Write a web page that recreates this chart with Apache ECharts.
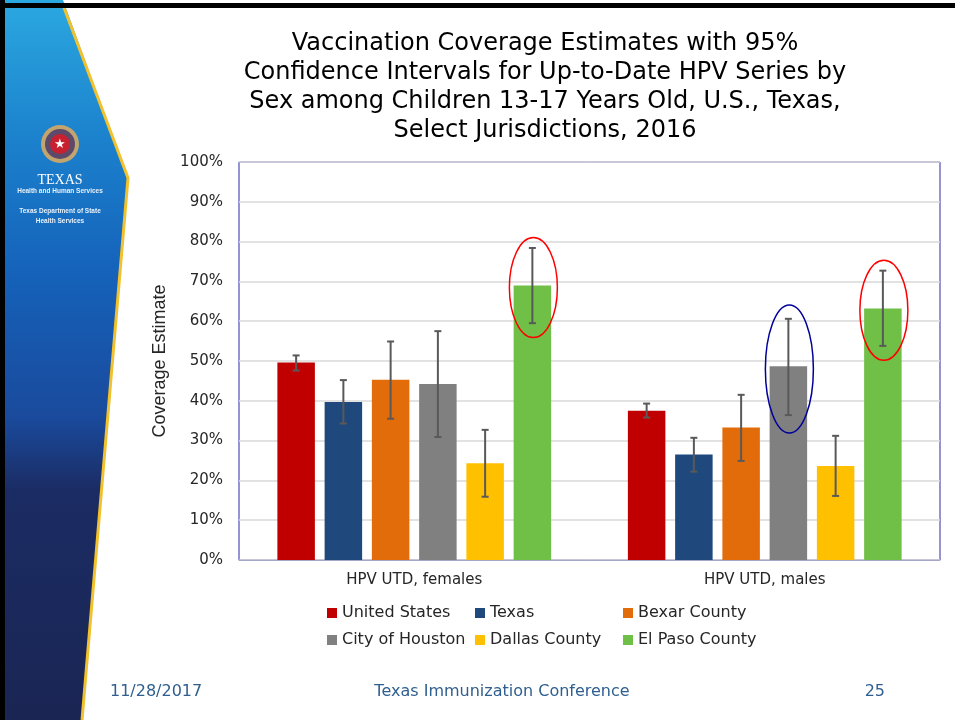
<!DOCTYPE html>
<html><head><meta charset="utf-8">
<script src="https://cdn.jsdelivr.net/npm/echarts@6/dist/echarts.min.js"></script>
<style>html,body{margin:0;padding:0;background:#fff}#c{width:955px;height:720px}</style>
</head><body><div id="c"></div>
<script>
// ---------------- DATA ----------------
const categories = ['HPV UTD, females', 'HPV UTD, males'];
const seriesNames = ['United States', 'Texas', 'Bexar County', 'City of Houston', 'Dallas County', 'El Paso County'];
const unitedStates = [49.6, 37.5];
const texas        = [39.7, 26.5];
const bexarCounty  = [45.3, 33.3];
const cityOfHouston= [44.2, 48.7];
const dallasCounty = [24.3, 23.6];
const elPasoCounty = [69.0, 63.2];
// 95% CI [low, high] per category
const unitedStatesCI = [[47.6, 51.4], [35.8, 39.3]];
const texasCI        = [[34.3, 45.2], [22.2, 30.7]];
const bexarCountyCI  = [[35.5, 54.9], [24.9, 41.5]];
const cityOfHoustonCI= [[30.9, 57.5], [36.4, 60.6]];
const dallasCountyCI = [[15.9, 32.7], [16.1, 31.2]];
const elPasoCountyCI = [[59.5, 78.4], [53.8, 72.7]];
// circled marks: [series name, category]
const circledMarks = [
  ['El Paso County', 'HPV UTD, females'],
  ['City of Houston', 'HPV UTD, males'],
  ['El Paso County', 'HPV UTD, males']
];
const titleLines = [
  'Vaccination Coverage Estimates with 95%',
  'Confidence Intervals for Up-to-Date HPV Series by',
  'Sex among Children 13-17 Years Old, U.S., Texas,',
  'Select Jurisdictions, 2016'
];
const footerDate = '11/28/2017';
const footerEvent = 'Texas Immunization Conference';
const footerPage = '25';

// ---------------- STYLE ----------------
const values = [unitedStates, texas, bexarCounty, cityOfHouston, dallasCounty, elPasoCounty];
const cis = [unitedStatesCI, texasCI, bexarCountyCI, cityOfHoustonCI, dallasCountyCI, elPasoCountyCI];
const colors = ['#C00000', '#1F497D', '#E36C0A', '#808080', '#FFC000', '#70BF46'];
const circleColors = {'El Paso County': '#FF0000', 'City of Houston': '#00009A'};
const BAR_W = 37.5, BAR_GAP = 0.26;
const FONT_W = '"DejaVu Sans", Verdana, sans-serif';
const FONT_T = '"DejaVu Sans", Tahoma, sans-serif';

function barOffset(si) {
  const n = seriesNames.length;
  return (si - (n - 1) / 2) * BAR_W * (1 + BAR_GAP);
}

const chart = echarts.init(document.getElementById('c'), null, {renderer: 'canvas'});

const barSeries = seriesNames.map((name, i) => ({
  name, type: 'bar', data: values[i], barWidth: BAR_W, barGap: (BAR_GAP * 100) + '%',
  itemStyle: {color: colors[i]}, z: 2
}));

const errData = [];
cis.forEach((arr, si) => arr.forEach((ci, ci_i) => errData.push([ci_i, ci[0], ci[1], si])));

const circData = circledMarks.map(([sname, cat]) => {
  const si = seriesNames.indexOf(sname), ci = categories.indexOf(cat);
  return [ci, cis[si][ci][0], cis[si][ci][1], si];
});

const errorSeries = {
  type: 'custom', name: 'ci', z: 5,
  encode: {x: 0, y: [1, 2]},
  data: errData,
  renderItem(params, api) {
    const cat = api.value(0), lo = api.value(1), hi = api.value(2), si = api.value(3);
    const a = api.coord([cat, lo]), b = api.coord([cat, hi]);
    const x = a[0] + barOffset(si);
    const st = {stroke: '#595959', lineWidth: 2};
    return {type: 'group', children: [
      {type: 'line', shape: {x1: x, y1: a[1], x2: x, y2: b[1]}, style: st},
      {type: 'line', shape: {x1: x - 3.5, y1: a[1], x2: x + 3.5, y2: a[1]}, style: st},
      {type: 'line', shape: {x1: x - 3.5, y1: b[1], x2: x + 3.5, y2: b[1]}, style: st}
    ]};
  }
};

const circleSeries = {
  type: 'custom', name: 'circles', z: 6,
  encode: {x: 0, y: [1, 2]},
  data: circData,
  renderItem(params, api) {
    const cat = api.value(0), lo = api.value(1), hi = api.value(2), si = api.value(3);
    const a = api.coord([cat, lo]), b = api.coord([cat, hi]);
    const x = a[0] + barOffset(si);
    const cy = (a[1] + b[1]) / 2 + 2;
    const ry = Math.abs(a[1] - b[1]) / 2 * 1.33;
    return {type: 'ellipse', shape: {cx: x + 1, cy: cy, rx: 24, ry: ry},
      style: {fill: 'none', stroke: circleColors[seriesNames[si]], lineWidth: 1.5}};
  }
};

const legendCols = [[0, 3], [1, 4], [2, 5]];
const legendLeft = [327, 475, 623];
const legends = legendCols.map((idx, k) => ({
  orient: 'vertical', left: legendLeft[k], top: 605, padding: 0,
  data: idx.map(i => seriesNames[i]),
  icon: 'rect', itemWidth: 10, itemHeight: 10, itemGap: 11,
  textStyle: {fontFamily: FONT_W, fontSize: 16, color: '#262626', lineHeight: 16},
  selectedMode: true
}));

const sidebar = [
  {type: 'polygon', z: -10, shape: {points: [[0, 0], [63, 0], [128, 178], [82, 720], [0, 720]]},
    style: {fill: new echarts.graphic.LinearGradient(0, 0, 0, 1, [
      {offset: 0, color: '#2BA8E0'}, {offset: 0.2, color: '#1B80CC'},
      {offset: 0.38, color: '#1562BA'}, {offset: 0.58, color: '#1A4A9C'},
      {offset: 0.68, color: '#1B2C64'}, {offset: 1, color: '#1A2553'}])}},
  {type: 'polyline', z: -9, shape: {points: [[63, 5], [128, 178], [82, 720]]},
    style: {stroke: '#F2C12E', lineWidth: 3, fill: 'none'}},
  {type: 'rect', z: -8, shape: {x: 0, y: 3, width: 955, height: 5}, style: {fill: '#000'}},
  {type: 'rect', z: -8, shape: {x: 0, y: 0, width: 5, height: 720}, style: {fill: '#000'}},
  {type: 'circle', z: -7, shape: {cx: 60, cy: 144, r: 19}, style: {fill: '#C2A56E'}},
  {type: 'circle', z: -7, shape: {cx: 60, cy: 144, r: 15}, style: {fill: '#5C4A6A'}},
  {type: 'circle', z: -7, shape: {cx: 60, cy: 144, r: 10}, style: {fill: '#C8202F'}},
  {type: 'text', z: -6, x: 60, y: 144, style: {text: '★', fontSize: 13, fill: '#fff', align: 'center', verticalAlign: 'middle'}},
  {type: 'text', z: -6, x: 60, y: 180, style: {text: 'TEXAS', fontFamily: '"Liberation Serif", serif', fontSize: 14, fill: '#fff', align: 'center', verticalAlign: 'middle'}},
  {type: 'text', z: -6, x: 60, y: 191, style: {text: 'Health and Human Services', fontFamily: 'Liberation Sans', fontWeight: 'bold', fontSize: 6.5, fill: '#E6F0FA', align: 'center', verticalAlign: 'middle'}},
  {type: 'text', z: -6, x: 60, y: 211, style: {text: 'Texas Department of State', fontFamily: 'Liberation Sans', fontWeight: 'bold', fontSize: 6.5, fill: '#E6F0FA', align: 'center', verticalAlign: 'middle'}},
  {type: 'text', z: -6, x: 60, y: 221, style: {text: 'Health Services', fontFamily: 'Liberation Sans', fontWeight: 'bold', fontSize: 6.5, fill: '#E6F0FA', align: 'center', verticalAlign: 'middle'}}
];

const texts = [
  {type: 'text', x: 545, y: 29, style: {text: titleLines.join('\n'), fontFamily: FONT_T, fontSize: 24, lineHeight: 29, fill: '#000', align: 'center', verticalAlign: 'top'}},
  {type: 'text', x: 110, y: 692, style: {text: footerDate, fontFamily: FONT_T, fontSize: 16, fill: '#2F5F8F', align: 'left', verticalAlign: 'middle'}},
  {type: 'text', x: 502, y: 692, style: {text: footerEvent, fontFamily: FONT_T, fontSize: 16, fill: '#2F5F8F', align: 'center', verticalAlign: 'middle'}},
  {type: 'text', x: 885, y: 692, style: {text: footerPage, fontFamily: FONT_T, fontSize: 16, fill: '#2F5F8F', align: 'right', verticalAlign: 'middle'}}
];

chart.setOption({
  backgroundColor: '#fff',
  animation: false,
  color: colors,
  legend: legends,
  grid: {left: 239, right: 15, top: 162, bottom: 160, show: true, borderColor: '#2A2AA8', borderWidth: 1, containLabel: false},
  xAxis: {type: 'category', data: categories,
    axisLine: {show: true, lineStyle: {color: '#A6A6C8', width: 1}},
    axisTick: {show: false},
    axisLabel: {fontFamily: FONT_W, fontSize: 15, color: '#262626', margin: 13}},
  yAxis: {type: 'value', min: 0, max: 100, interval: 10,
    name: 'Coverage Estimate', nameLocation: 'middle', nameRotate: 90, nameGap: 63,
    nameTextStyle: {fontFamily: '"Liberation Sans", Arial, sans-serif', fontSize: 18, color: '#262626'},
    axisLine: {show: false}, axisTick: {show: false},
    axisLabel: {formatter: '{value}%', fontFamily: FONT_W, fontSize: 15, color: '#262626', margin: 16},
    splitLine: {lineStyle: {color: '#D9D9D9', width: 1.5}}},
  series: [...barSeries, errorSeries, circleSeries],
  graphic: [...sidebar, ...texts]
});
</script></body></html>
